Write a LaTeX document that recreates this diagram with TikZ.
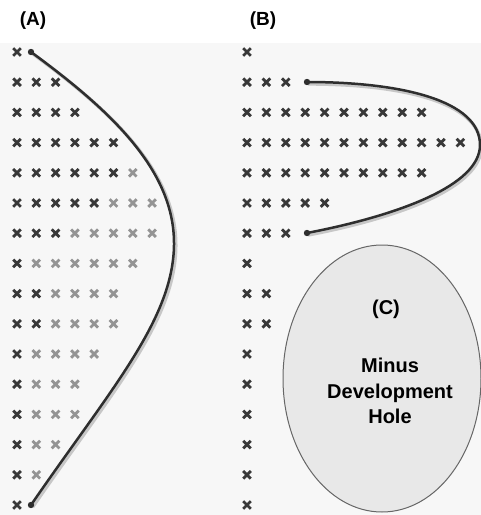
\documentclass[tikz,border=0pt]{standalone}
\usepackage{fontspec}
\setmainfont{Liberation Sans}
\usetikzlibrary{shapes.geometric}
\newcommand\mycross[3]{\draw[#1] (#2,#3) +(-3.8,-3.8) -- +(3.8,3.8) +(-3.8,3.8) -- +(3.8,-3.8);}
\begin{document}
\begin{tikzpicture}[x=1pt,y=-1pt,
  xd/.style={draw=black!78,line width=2.8pt},
  xl/.style={draw=black!42,line width=2.8pt},
  curve/.style={draw=black!82,line width=2.5pt},
  shade/.style={draw=black!22,line width=3.4pt},
  enddot/.style={fill=black!82},
  lbl/.style={font=\bfseries\fontsize{19}{22}\selectfont,inner sep=0pt},
  txt/.style={font=\bfseries\fontsize{20}{25.5}\selectfont,inner sep=0pt,align=center},
  hole/.style={ellipse,draw=black!60,fill=black!9,line width=1pt,minimum width=198pt,minimum height=267pt,inner sep=0pt}]
\useasboundingbox (0,0) rectangle (481,515);
\fill[black!3] (0,43) rectangle (481,515);
% panel A crosses
\foreach \d/\l [count=\i] in {1/0,3/0,4/0,6/0,6/1,5/3,3/5,1/6,2/4,2/4,1/4,1/3,1/3,1/2,1/1,1/0}{
  \pgfmathsetmacro\yy{52+30.2*(\i-1)}
  \foreach \j in {1,...,\d}{\mycross{xd}{{17+19.3*(\j-1)}}{\yy}}
  \ifnum\l>0
    \foreach \j in {1,...,\l}{\mycross{xl}{{17+19.3*(\d+\j-1)}}{\yy}}
  \fi
}
% panel B crosses
\foreach \d [count=\i] in {1,3,10,12,10,5,3,1,2,2,1,1,1,1,1,1}{
  \pgfmathsetmacro\yy{52+30.2*(\i-1)}
  \foreach \j in {1,...,\d}{\mycross{xd}{{247+19.4*(\j-1)}}{\yy}}
}
% curve A
\coordinate (a1) at (31,52);
\coordinate (a2) at (31,505);
\draw[shade] ([xshift=1.8pt,yshift=-1.8pt]a1) .. controls (111.8,111.8) and (176.8,171.8) .. (175.8,246.8)
  .. controls (174.8,321.8) and (111.8,391.8) .. ([xshift=1.8pt,yshift=-1.8pt]a2);
\draw[curve] (a1) .. controls (110,110) and (175,170) .. (174,245)
  .. controls (173,320) and (110,390) .. (a2);
\fill[enddot] (a1) circle (3.2);
\fill[enddot] (a2) circle (3.2);
% curve B
\coordinate (b1) at (307,82);
\coordinate (b2) at (307,233);
\draw[shade] ([xshift=1.2pt,yshift=-2pt]b1) .. controls (401.2,84) and (481.2,102) .. (481.2,147)
  .. controls (481.2,187) and (401.2,217) .. ([xshift=1.2pt,yshift=-2pt]b2);
\draw[curve] (b1) .. controls (400,82) and (480,100) .. (480,145)
  .. controls (480,185) and (400,215) .. (b2);
\fill[enddot] (b1) circle (3.2);
\fill[enddot] (b2) circle (3.2);
% hole
\node[hole] (h) at (382,378.5) {};
\node[txt] (hc) at (386,309) {(C)};
\node[txt] (ht) at (390,391) {Minus\\Development\\Hole};
% labels
\node[lbl] (la) at (33,21) {(A)};
\node[lbl] (lb) at (263,21) {(B)};
\end{tikzpicture}
\end{document}
